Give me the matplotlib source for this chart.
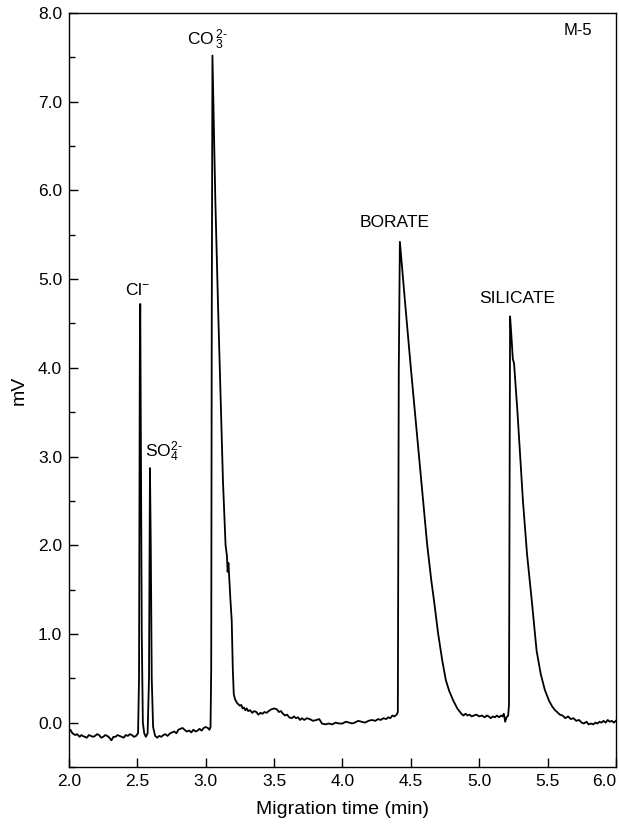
import matplotlib
matplotlib.use("Agg")
import matplotlib.pyplot as plt
from matplotlib.ticker import MultipleLocator

plt.rcParams['font.family'] = ['Liberation Sans', 'DejaVu Sans']
plt.rcParams['mathtext.fontset'] = 'custom'
plt.rcParams['mathtext.rm'] = 'Liberation Sans'
plt.rcParams['mathtext.it'] = 'Liberation Sans'

# ── Electropherogram trace ────────────────────────────────────────────────────
time_min = [
    2.000, 2.010, 2.025, 2.045, 2.060, 2.077, 2.090, 2.100, 2.115, 2.130,
    2.145, 2.160, 2.175, 2.190, 2.205, 2.220, 2.235, 2.250, 2.265, 2.280,
    2.295, 2.310, 2.325, 2.340, 2.355, 2.370, 2.385, 2.400, 2.415, 2.430,
    2.445, 2.460, 2.475, 2.490, 2.505,
    2.512, 2.518, 2.521, 2.526, 2.532, 2.540, 2.550, 2.562, 2.575, 2.585,
    2.592, 2.598, 2.605, 2.615, 2.630, 2.645, 2.660, 2.675, 2.690, 2.705,
    2.720, 2.740, 2.755, 2.770, 2.785, 2.800, 2.815, 2.830, 2.845, 2.860,
    2.880, 2.895, 2.910, 2.925, 2.940, 2.955, 2.970, 2.985, 3.000, 3.015,
    3.027, 3.035, 3.040, 3.044, 3.049, 3.056, 3.070, 3.090, 3.110, 3.126,
    3.145, 3.155, 3.160, 3.166, 3.180, 3.190, 3.198, 3.205, 3.215, 3.230,
    3.250, 3.260, 3.270, 3.280, 3.290, 3.300, 3.310, 3.325, 3.340, 3.355,
    3.370, 3.385, 3.400, 3.415, 3.430, 3.445, 3.460, 3.480, 3.500, 3.520,
    3.535, 3.550, 3.565, 3.580, 3.595, 3.610, 3.630, 3.645, 3.660, 3.675,
    3.690, 3.705, 3.720, 3.740, 3.760, 3.785, 3.810, 3.830, 3.850, 3.875,
    3.900, 3.925, 3.950, 3.975, 4.000, 4.025, 4.050, 4.070, 4.090, 4.115,
    4.140, 4.165, 4.190, 4.215, 4.240, 4.260, 4.280, 4.300, 4.320, 4.335,
    4.350, 4.365, 4.380, 4.396, 4.405, 4.412, 4.420, 4.432, 4.460,
    4.500, 4.530, 4.560, 4.590, 4.620, 4.650, 4.670, 4.700, 4.730, 4.756,
    4.780, 4.810, 4.840, 4.870, 4.885, 4.900, 4.915, 4.930, 4.945, 4.960,
    4.980, 5.000, 5.020, 5.040, 5.055, 5.070, 5.085, 5.100, 5.115, 5.130,
    5.145, 5.160, 5.170, 5.180, 5.190, 5.200, 5.212, 5.218, 5.226, 5.234,
    5.246, 5.255, 5.280, 5.320, 5.350, 5.385, 5.420, 5.450, 5.480, 5.510,
    5.535, 5.555, 5.570, 5.590, 5.610, 5.630, 5.650, 5.670, 5.690, 5.710,
    5.730, 5.750, 5.765, 5.785, 5.800, 5.820, 5.835, 5.850, 5.865, 5.880,
    5.895, 5.910, 5.925, 5.940, 5.955, 5.970, 5.985, 6.000,
]
signal_mv = [
    -0.10, -0.08, -0.12, -0.14, -0.13, -0.16, -0.14, -0.15, -0.16, -0.17,
    -0.14, -0.15, -0.16, -0.15, -0.13, -0.14, -0.17, -0.16, -0.14, -0.15,
    -0.17, -0.20, -0.16, -0.16, -0.14, -0.15, -0.16, -0.17, -0.14, -0.15,
    -0.13, -0.14, -0.16, -0.15, -0.12,
    0.50, 4.20, 4.72, 3.00, 1.00, 0.00, -0.12, -0.16, -0.12, 0.50,
    2.87, 2.00, 0.50, -0.05, -0.15, -0.17, -0.15, -0.16, -0.14, -0.13,
    -0.15, -0.12, -0.11, -0.10, -0.12, -0.08, -0.07, -0.06, -0.08, -0.10,
    -0.09, -0.11, -0.08, -0.10, -0.09, -0.07, -0.09, -0.06, -0.05, -0.06,
    -0.08, -0.05, 0.60, 4.50, 7.52, 7.00, 5.90, 4.70, 3.60, 2.72,
    2.00, 1.88, 1.70, 1.80, 1.40, 1.15, 0.60, 0.32, 0.26, 0.22,
    0.19, 0.20, 0.16, 0.17, 0.14, 0.16, 0.13, 0.14, 0.11, 0.13,
    0.12, 0.09, 0.11, 0.10, 0.12, 0.11, 0.13, 0.15, 0.16, 0.15,
    0.12, 0.13, 0.10, 0.08, 0.09, 0.06, 0.05, 0.07, 0.05, 0.06,
    0.03, 0.05, 0.03, 0.05, 0.04, 0.02, 0.03, 0.04, -0.01, -0.02,
    -0.01, -0.02, 0.00, -0.01, -0.01, 0.01, 0.00, -0.01, 0.00, 0.02,
    0.01, 0.00, 0.02, 0.03, 0.02, 0.04, 0.03, 0.05, 0.04, 0.06,
    0.05, 0.08, 0.07, 0.09, 0.12, 4.00, 5.42, 5.20, 4.70,
    4.00, 3.50, 3.00, 2.50, 2.00, 1.60, 1.37, 1.00, 0.70, 0.48,
    0.36, 0.25, 0.16, 0.10, 0.08, 0.10, 0.08, 0.09, 0.07, 0.08,
    0.09, 0.07, 0.08, 0.06, 0.08, 0.07, 0.05, 0.07, 0.06, 0.08,
    0.06, 0.08, 0.07, 0.10, 0.01, 0.06, 0.08, 0.20, 4.58, 4.40,
    4.10, 4.05, 3.50, 2.50, 1.90, 1.37, 0.81, 0.55, 0.37, 0.25,
    0.18, 0.14, 0.12, 0.09, 0.08, 0.05, 0.07, 0.04, 0.05, 0.02,
    0.03, 0.00, -0.01, 0.01, -0.02, -0.01, -0.02, 0.00, -0.01, 0.01,
    0.00, 0.02, 0.00, 0.03, 0.01, 0.02, 0.00, 0.02,
]

# ── Peak labels ───────────────────────────────────────────────────────────────
peak_labels = [r'Cl$^{-}$', r'SO$_4^{2\text{-}}$', r'CO$\,_3^{2\text{-}}$',
               'BORATE', 'SILICATE']
label_x = [2.50, 2.555, 2.865, 4.385, 5.28]
label_y = [4.88, 3.05, 7.70, 5.64, 4.78]
label_ha = ['center', 'left', 'left', 'center', 'center']

x_ticks = [2.0, 2.5, 3.0, 3.5, 4.0, 4.5, 5.0, 5.5, 6.0]

fig = plt.figure(figsize=(6.19, 8.24), dpi=100)
ax = fig.add_axes([0.1115, 0.0692, 0.8835, 0.915])

ax.plot(time_min, signal_mv, color='black', linewidth=1.3)

for txt, x, y, ha in zip(peak_labels, label_x, label_y, label_ha):
    ax.text(x, y, txt, ha=ha, va='center', fontsize=12.5)

ax.text(5.72, 7.80, 'M-5', ha='center', va='center', fontsize=12)

ax.set_xlim(2.0, 6.0)
ax.set_ylim(-0.5, 8.0)
ax.set_xticks(x_ticks)
ax.set_xticklabels([f'{t:.1f}' for t in x_ticks])
ax.get_xticklabels()[-1].set_horizontalalignment('right')
ax.yaxis.set_major_locator(MultipleLocator(1.0))
ax.yaxis.set_minor_locator(MultipleLocator(0.5))
ax.yaxis.set_major_formatter(plt.FormatStrFormatter('%.1f'))

ax.tick_params(axis='both', which='major', direction='in', length=6.5,
               width=1.0, labelsize=12.5, pad=5)
ax.tick_params(axis='y', which='minor', direction='in', length=4.5, width=1.0)
ax.tick_params(top=False, right=False)

for side in ['top', 'right', 'left', 'bottom']:
    ax.spines[side].set_linewidth(1.0)

ax.set_xlabel('Migration time (min)', fontsize=14, labelpad=9)
ax.set_ylabel('mV', fontsize=14, labelpad=7)

fig.savefig('out.png', dpi=100)
